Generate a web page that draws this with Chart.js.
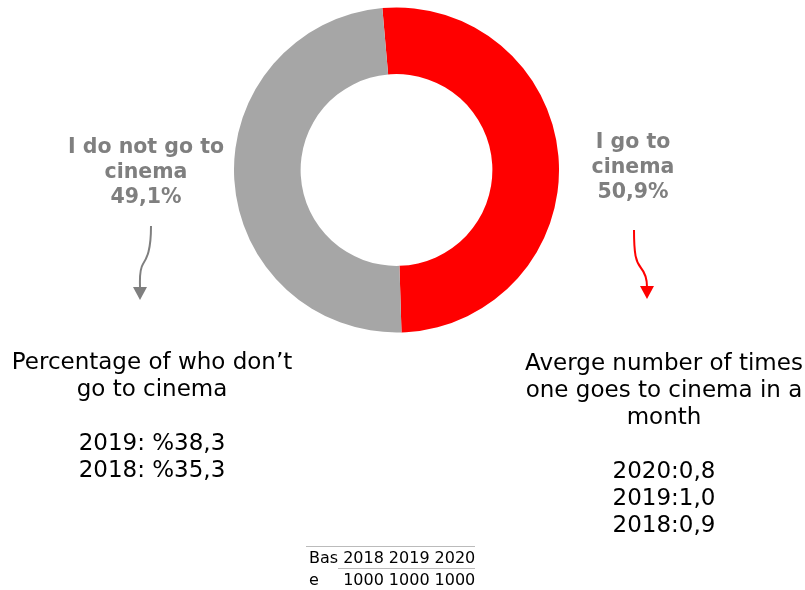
<!DOCTYPE html>
<html>
<head>
<meta charset="utf-8">
<script src="https://cdn.jsdelivr.net/npm/chart.js@4"></script>
<style>
  body { margin: 0; background: #fff; font-family: "DejaVu Sans", Verdana, sans-serif; }
  #wrap { position: relative; width: 805px; height: 590px; overflow: hidden; }
  #chartBox { position: absolute; left: 234px; top: 6px; width: 325px; height: 328px; }
  .lbl { position: absolute; text-align: center; font-weight: bold; color: #7f7f7f; font-size: 20.5px; line-height: 25px; }
  .note { position: absolute; text-align: center; color: #000; font-size: 23px; line-height: 27px; }
  svg { position: absolute; left: 0; top: 0; }
  table { position: absolute; left: 306px; top: 546px; border-collapse: collapse; font-size: 16px; color: #000; }
  td { padding: 0 0 0 5px; line-height: 21px; white-space: nowrap; }
  td.first { padding: 0 0 0 3px; }
  .top td { border-top: 1px solid #bbb; }
  .bot td { border-bottom: 1px solid #bbb; }
  .bot td.num { border-top: 1px solid #bbb; }
</style>
</head>
<body>
<div id="wrap">
  <div id="chartBox"><canvas id="donut"></canvas></div>

  <div class="lbl" id="lblNo" style="left:36px; top:134px; width:220px;"></div>
  <div class="lbl" id="lblYes" style="left:533px; top:129px; width:200px;"></div>

  <svg width="805" height="590">
    <path d="M151 226 C151 250 147 258 143 264 C139 270 140 280 140 288" stroke="#7f7f7f" stroke-width="2" fill="none"/>
    <polygon points="133,287 147,287 140,300" fill="#7f7f7f"/>
    <path d="M634 230 C634 255 636 262 641 268 C646 274 647 280 647 287" stroke="#ff0000" stroke-width="2" fill="none"/>
    <polygon points="640,286 654,286 647,299" fill="#ff0000"/>
  </svg>

  <div class="note" style="left:-8px; top:348px; width:320px;">
    Percentage of who don’t<br>go to cinema<br><br><span id="noteNo"></span>
  </div>
  <div class="note" style="left:504px; top:349px; width:320px;">
    Averge number of times<br>one goes to cinema in a<br>month<br><br><span id="noteYes"></span>
  </div>

  <table>
    <tr class="top">
      <td class="first">Bas</td><td id="y0"></td><td id="y1"></td><td id="y2"></td>
    </tr>
    <tr class="bot">
      <td class="first">e</td><td class="num" id="b0"></td><td class="num" id="b1"></td><td class="num" id="b2"></td>
    </tr>
  </table>
</div>

<script>
const segmentLabels = ['I go to cinema', 'I do not go to cinema'];
const segmentValues = [50.9, 49.1];
const segmentColors = ['#ff0000', '#a6a6a6'];

const notGoYears = ['2019', '2018'];
const notGoShares = ['38,3', '35,3'];

const visitYears = ['2020', '2019', '2018'];
const visitAverages = ['0,8', '1,0', '0,9'];

const baseYears = ['2018', '2019', '2020'];
const baseSizes = [1000, 1000, 1000];

function fmt(v) {
  return v.toFixed(1).replace('.', ',') + '%';
}

document.getElementById('lblYes').innerHTML = 'I go to<br>cinema<br>' + fmt(segmentValues[0]);
document.getElementById('lblNo').innerHTML = 'I do not go to<br>cinema<br>' + fmt(segmentValues[1]);

document.getElementById('noteNo').innerHTML =
  notGoYears.map((y, i) => y + ': %' + notGoShares[i]).join('<br>');
document.getElementById('noteYes').innerHTML =
  visitYears.map((y, i) => y + ':' + visitAverages[i]).join('<br>');

baseYears.forEach((y, i) => {
  document.getElementById('y' + i).textContent = y;
  document.getElementById('b' + i).textContent = baseSizes[i];
});

const ctx = document.getElementById('donut').getContext('2d');
const donut = new Chart(ctx, {
  type: 'doughnut',
  data: {
    labels: segmentLabels,
    datasets: [{
      data: segmentValues,
      backgroundColor: segmentColors,
      borderWidth: 0
    }]
  },
  options: {
    responsive: true,
    maintainAspectRatio: false,
    animation: false,
    rotation: -5,
    cutout: '59%',
    layout: { padding: 0 },
    plugins: {
      legend: { display: false },
      tooltip: { enabled: false }
    }
  }
});
</script>
</body>
</html>
